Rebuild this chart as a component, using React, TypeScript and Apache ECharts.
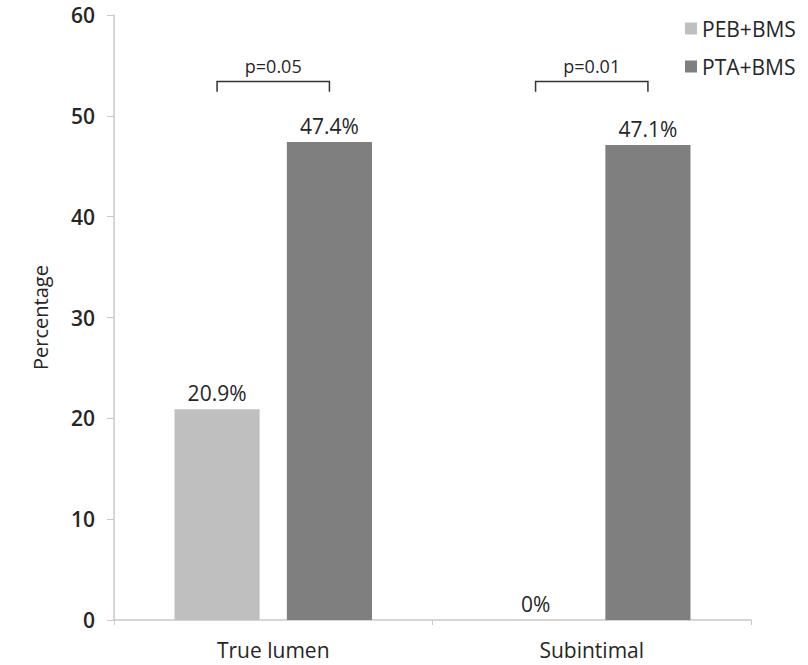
import React, { useEffect, useRef } from "react";
import * as echarts from "echarts";

const categories = ["True lumen", "Subintimal"];
const seriesNames = ["PEB+BMS", "PTA+BMS"];
const pebValues = [20.9, 0];
const ptaValues = [47.4, 47.1];
const pLabels = ["p=0.05", "p=0.01"];
const bracketLevels = [53.4, 53.4];
const yMin = 0;
const yMax = 60;
const yInterval = 10;

const FONT = "'Open Sans', 'Noto Sans', sans-serif";
const TEXT_COLOR = "#262626";
const BAR_CAT_GAP = 0.38;
const BAR_GAP = 0.32;

export default function App() {
  const ref = useRef<HTMLDivElement>(null);
  useEffect(() => {
    document.body.style.margin = "0";
    if (!ref.current) return;
    const chart = echarts.init(ref.current, null, { renderer: "svg" });
    const labelStyle = {
      show: true,
      position: "top" as const,
      distance: 6,
      fontSize: 21,
      fontFamily: FONT,
      color: TEXT_COLOR,
      formatter: (p: any) => `${p.value}%`,
    };
    chart.setOption({
      animation: false,
      backgroundColor: "#fff",
      grid: { left: 114, right: 57, top: 15, bottom: 45, containLabel: false },
      legend: {
        data: seriesNames,
        orient: "vertical",
        left: 680,
        top: 13,
        itemWidth: 12,
        itemHeight: 12,
        itemGap: 17,
        icon: "rect",
        textStyle: { fontSize: 21, fontFamily: FONT, color: TEXT_COLOR },
      },
      xAxis: {
        type: "category",
        data: categories,
        axisLine: { lineStyle: { color: "#c8c8c8", width: 1.5 } },
        axisTick: { show: true, length: 5, lineStyle: { color: "#c8c8c8" } },
        axisLabel: { fontSize: 21, fontFamily: FONT, color: TEXT_COLOR, margin: 19 },
      },
      yAxis: {
        type: "value",
        min: yMin,
        max: yMax,
        interval: yInterval,
        name: "Percentage",
        nameLocation: "middle",
        nameGap: 64,
        nameTextStyle: { fontSize: 20, fontFamily: FONT, color: TEXT_COLOR },
        axisLine: { show: true, lineStyle: { color: "#c8c8c8", width: 1.5 } },
        axisTick: { show: true, length: 7, lineStyle: { color: "#c8c8c8" } },
        splitLine: { show: false },
        axisLabel: { fontSize: 21, fontWeight: 600, fontFamily: FONT, color: TEXT_COLOR, margin: 19 },
      },
      series: [
        {
          name: seriesNames[0],
          type: "bar",
          data: pebValues,
          barCategoryGap: `${BAR_CAT_GAP * 100}%`,
          barGap: `${BAR_GAP * 100}%`,
          itemStyle: { color: "#bfbfbf" },
          label: labelStyle,
        },
        {
          name: seriesNames[1],
          type: "bar",
          data: ptaValues,
          barCategoryGap: `${BAR_CAT_GAP * 100}%`,
          barGap: `${BAR_GAP * 100}%`,
          itemStyle: { color: "#7f7f7f" },
          label: labelStyle,
        },
        {
          name: "brackets",
          type: "custom",
          data: categories.map((_, i) => [i, bracketLevels[i]]),
          encode: { x: 0, y: 1 },
          silent: true,
          clip: false,
          renderItem: (params: any, api: any) => {
            const idx = api.value(0);
            const c = api.coord([idx, api.value(1)]);
            const W = api.size([1, 0])[0];
            const bw = (W * (1 - BAR_CAT_GAP)) / (2 + BAR_GAP);
            const half = (bw * (1 + BAR_GAP)) / 2;
            const x1 = c[0] - half;
            const x2 = c[0] + half;
            const drop = api.size([0, 1])[1];
            return {
              type: "group",
              children: [
                {
                  type: "polyline",
                  shape: {
                    points: [
                      [x1, c[1] + drop],
                      [x1, c[1]],
                      [x2, c[1]],
                      [x2, c[1] + drop],
                    ],
                  },
                  style: { stroke: "#333", lineWidth: 1.5, fill: null },
                },
                {
                  type: "text",
                  style: {
                    text: pLabels[idx],
                    x: c[0],
                    y: c[1] - 7,
                    align: "center",
                    verticalAlign: "bottom",
                    fontSize: 18,
                    fontFamily: FONT,
                    fill: TEXT_COLOR,
                  },
                },
              ],
            };
          },
        },
      ],
    });
    return () => chart.dispose();
  }, []);
  return <div ref={ref} style={{ width: 808, height: 665 }} />;
}
